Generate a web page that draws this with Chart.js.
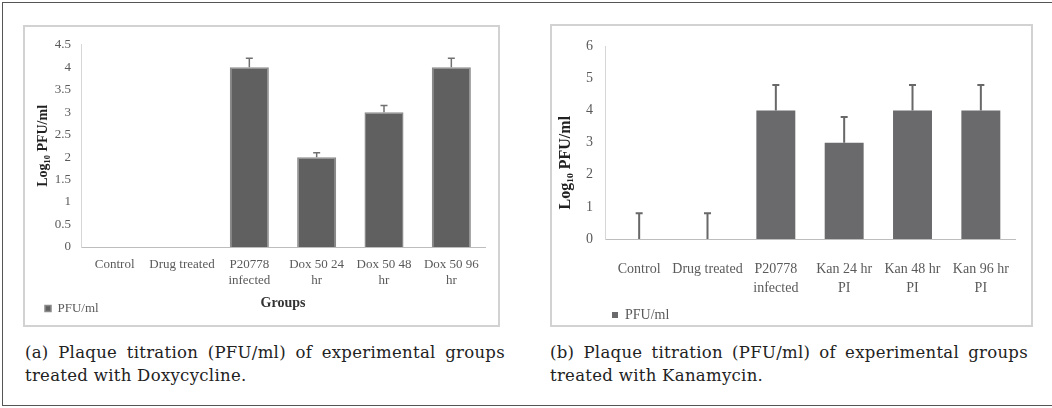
<!DOCTYPE html>
<html>
<head>
<meta charset="utf-8">
<script src="https://cdn.jsdelivr.net/npm/chart.js@4.4.1/dist/chart.umd.min.js"></script>
<style>
  html, body { margin: 0; padding: 0; background: #fff; }
  body { width: 1052px; height: 408px; position: relative; overflow: hidden; }
  .frame { position: absolute; left: 2px; top: 2px; width: 1070px; height: 402px; border: 1.5px solid #555; }
  .box { position: absolute; border: 2px solid #d2d2d2; }
  .cv { position: absolute; }
  .cap { position: absolute; font-family: "DejaVu Serif", serif; font-size: 16.5px; letter-spacing: 0.3px; line-height: 23px; color: #222; }
  .cap div { text-align: justify; text-align-last: justify; white-space: nowrap; }
  .cap div + div { text-align-last: left; }
</style>
</head>
<body>
<div class="frame"></div>
<div class="box" style="left:23px;top:25px;width:473px;height:298px"></div>
<div class="box" style="left:550px;top:24px;width:479px;height:299px"></div>
<div class="cv" style="left:25px;top:27px;width:473px;height:298px"><canvas id="chart-dox"></canvas></div>
<div class="cv" style="left:552px;top:26px;width:479px;height:299px"><canvas id="chart-kan"></canvas></div>
<div class="cap" style="left:25px;top:341px;width:480px">
  <div>(a) Plaque titration (PFU/ml) of experimental groups</div>
  <div>treated with Doxycycline.</div>
</div>
<div class="cap" style="left:550px;top:341px;width:478px">
  <div>(b) Plaque titration (PFU/ml) of experimental groups</div>
  <div>treated with Kanamycin.</div>
</div>
<script>
// panel (a) doxycycline
var doxGroups = ['Control', 'Drug treated', ['P20778', 'infected'], ['Dox 50 24', 'hr'], ['Dox 50 48', 'hr'], ['Dox 50 96', 'hr']];
var doxLog = [0, 0, 4, 2, 3, 4];
var doxErr = [0, 0, 0.2, 0.1, 0.15, 0.2];
var doxTickLabels = ['0', '0.5', '1', '1.5', '2', '2.5', '3', '3.5', '4', '4.5'];

// panel (b) kanamycin
var kanGroups = ['Control', 'Drug treated', ['P20778', 'infected'], ['Kan 24 hr', 'PI'], ['Kan 48 hr', 'PI'], ['Kan 96 hr', 'PI']];
var kanLog = [0, 0, 4, 3, 4, 4];
var kanErr = [0.8, 0.8, 0.8, 0.8, 0.8, 0.8];
var kanTickLabels = ['0', '1', '2', '3', '4', '5', '6'];

var SERIF = '"Liberation Serif", "Times New Roman", serif';
var TICK = '#5a5a5a';

/* plus-only error bars, drawn from each bar's top through the y scale */
var errorBars = {
  id: 'errorBars',
  afterDatasetsDraw: function (chart, args, opts) {
    var ctx = chart.ctx, ys = chart.scales.y;
    var meta = chart.getDatasetMeta(0);
    var vals = chart.data.datasets[0].data;
    ctx.save();
    ctx.strokeStyle = opts.color;
    ctx.lineWidth = opts.width;
    meta.data.forEach(function (bar, i) {
      var e = opts.err[i];
      if (!e) { return; }
      var x = bar.x, y0 = ys.getPixelForValue(vals[i]), y1 = ys.getPixelForValue(vals[i] + e);
      ctx.beginPath();
      ctx.moveTo(x, y0); ctx.lineTo(x, y1);
      ctx.moveTo(x - opts.cap, y1); ctx.lineTo(x + opts.cap, y1);
      ctx.stroke();
    });
    ctx.restore();
  }
};

/* move the legend into the corner where the original puts it */
var nudgeLegend = {
  id: 'nudgeLegend',
  afterLayout: function (chart, args, opts) {
    var lg = chart.legend;
    if (!lg) { return; }
    lg.left += opts.dx; lg.right += opts.dx;
    lg.top += opts.dy; lg.bottom += opts.dy;
  }
};

function makeChart(id, o) {
  var n = o.tickLabels.length;
  return new Chart(document.getElementById(id), {
    type: 'bar',
    data: {
      labels: o.labels,
      datasets: [{
        label: 'PFU/ml',
        data: o.values,
        backgroundColor: o.fill,
        borderColor: o.edge,
        borderWidth: o.edgeW,
        categoryPercentage: 1,
        barPercentage: o.barPct
      }]
    },
    options: {
      responsive: true, maintainAspectRatio: false, animation: false,
      layout: { padding: o.pad },
      plugins: {
        tooltip: { enabled: false },
        legend: {
          position: 'bottom', align: 'start',
          labels: { boxWidth: 6, boxHeight: 6, padding: 4, color: TICK, font: { family: SERIF, size: o.legSize } }
        },
        errorBars: { err: o.err, color: o.errColor, width: o.errW, cap: o.cap },
        nudgeLegend: o.nudge
      },
      scales: {
        x: {
          grid: { display: false, drawTicks: false },
          border: { color: '#bdbdbd', width: 1 },
          ticks: { color: TICK, padding: o.xPad, maxRotation: 0, autoSkip: false, font: { family: SERIF, size: o.xSize, lineHeight: o.xLh } },
          title: o.xTitle,
          afterFit: function (s) { s.height = o.xH; }
        },
        y: {
          min: +o.tickLabels[0], max: +o.tickLabels[n - 1],
          grid: { display: false, drawTicks: false },
          border: { color: '#d6d6d6', width: 1 },
          ticks: {
            stepSize: (o.tickLabels[n - 1] - o.tickLabels[0]) / (n - 1),
            color: TICK, padding: o.yPad, font: { family: SERIF, size: o.ySize },
            callback: function (v, i) { return o.tickLabels[i]; }
          },
          title: {
            display: true, text: o.yTitle, color: '#222',
            font: { family: SERIF, size: o.yTitleSize, weight: 'bold', lineHeight: 1.2 },
            padding: { top: o.yTitlePad, bottom: 0 }
          },
          afterFit: function (s) { s.width = o.yW; }
        }
      }
    },
    plugins: [errorBars, nudgeLegend]
  });
}

makeChart('chart-dox', {
  labels: doxGroups, values: doxLog, err: doxErr, tickLabels: doxTickLabels,
  fill: '#606060', edge: '#8a8a8a', edgeW: 1.5, barPct: 0.58,
  errColor: '#707070', errW: 1.5, cap: 3.5,
  pad: { top: 11, right: 13, left: 0, bottom: 2 },
  xH: 49, xPad: 9, xSize: 13, xLh: 1.25,
  xTitle: { display: true, text: 'Groups', color: '#333', font: { family: SERIF, size: 14, weight: 'bold', lineHeight: 1.2 }, padding: { top: 0, bottom: -16 } },
  yW: 56, yPad: 10, ySize: 13, yTitle: 'Log\u2081\u2080 PFU/ml', yTitleSize: 14, yTitlePad: 10,
  legSize: 13, nudge: { dx: 16, dy: 2 }
});

makeChart('chart-kan', {
  labels: kanGroups, values: kanLog, err: kanErr, tickLabels: kanTickLabels,
  fill: '#6a6a6c', edge: '#6a6a6c', edgeW: 0, barPct: 0.57,
  errColor: '#686868', errW: 2, cap: 3.5,
  pad: { top: 18, right: 14, left: 0, bottom: 2 },
  xH: 56, xPad: 21, xSize: 14, xLh: 1.35,
  xTitle: { display: false },
  // trailing spaces push the rotated title down, as in the original
  yW: 53, yPad: 12, ySize: 14, yTitle: 'Log\u2081\u2080 PFU/ml          ', yTitleSize: 16, yTitlePad: 4,
  legSize: 14, nudge: { dx: 56, dy: 9 }
});
</script>
</body>
</html>
